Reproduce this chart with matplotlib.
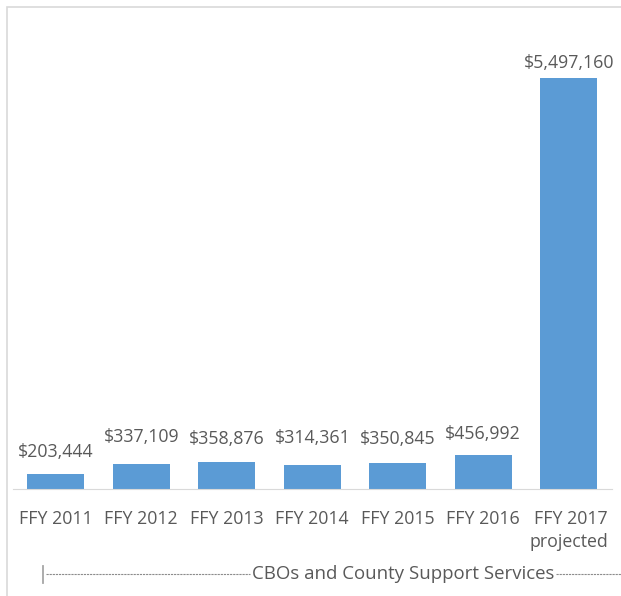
import numpy as np
import matplotlib
matplotlib.use("Agg")
import matplotlib.pyplot as plt
from matplotlib.patches import Rectangle
from matplotlib.lines import Line2D

# ---------------------------------------------------------------------------
# Data
# ---------------------------------------------------------------------------
categories = ["FFY 2011", "FFY 2012", "FFY 2013", "FFY 2014",
              "FFY 2015", "FFY 2016", "FFY 2017\nprojected"]
values = [203444, 337109, 358876, 314361, 350845, 456992, 5497160]
group_label = "CBOs and County Support Services"

# label offsets (points above bar top), mimicking Excel's placement
label_offsets = [16, 19, 17, 19.5, 17, 15, 11]

BAR_COLOR = "#5B9BD5"
TEXT_COLOR = "#595959"
W, H = 621, 596
FS = 12.8

plt.rcParams["font.family"] = ["Open Sans", "DejaVu Sans"]

fig = plt.figure(figsize=(W / 100, H / 100), dpi=100)
fig.patch.set_facecolor("white")

# axes placed in pixel terms
left, right, bottom, top = 13, 611.5, 489, 10
ax = fig.add_axes([left / W, 1 - bottom / H, (right - left) / W, (bottom - top) / H])

x = np.arange(len(categories))
ax.bar(x, values, width=0.667, color=BAR_COLOR)
ax.set_xlim(-0.5, len(categories) - 0.5)
ax.set_ylim(0, values[-1] * (bottom - top) / 411)

for xi, v, off in zip(x, values, label_offsets):
    ax.annotate(f"${v:,}", (xi, v), xytext=(0, off), textcoords="offset points",
                ha="center", va="center", fontsize=FS, color=TEXT_COLOR)

for s in ["top", "right", "left"]:
    ax.spines[s].set_visible(False)
ax.spines["bottom"].set_color("#d9d9d9")
ax.set_yticks([])
ax.set_xticks(x)
ax.set_xticklabels(categories, fontsize=FS, color=TEXT_COLOR, linespacing=1.4)
ax.tick_params(axis="x", length=0, pad=15)
ax.get_xticklabels()[-1].set_multialignment("right")

# outer chart frame
fig.add_artist(Rectangle((7 / W, -0.1), 1.2, 1 - 7 / H + 0.1, transform=fig.transFigure,
                         fill=False, edgecolor="#d9d9d9", linewidth=1.2))

# group label with dashed leader lines
gy = 1 - 574 / H
fig.text(403 / W, gy, group_label, ha="center", va="center",
         fontsize=FS + 0.6, color=TEXT_COLOR)
fig.add_artist(Line2D([46 / W, 250 / W], [gy, gy], transform=fig.transFigure,
                      color="#8c8c8c", linewidth=0.8, linestyle=(0, (2, 0.8))))
fig.add_artist(Line2D([556 / W, 1.0], [gy, gy], transform=fig.transFigure,
                      color="#8c8c8c", linewidth=0.8, linestyle=(0, (2, 0.8))))
fig.add_artist(Line2D([43 / W, 43 / W], [1 - 566 / H, 1 - 583 / H],
                      transform=fig.transFigure, color="#a6a6a6", linewidth=1.3))

fig.savefig("out.png", dpi=100)
